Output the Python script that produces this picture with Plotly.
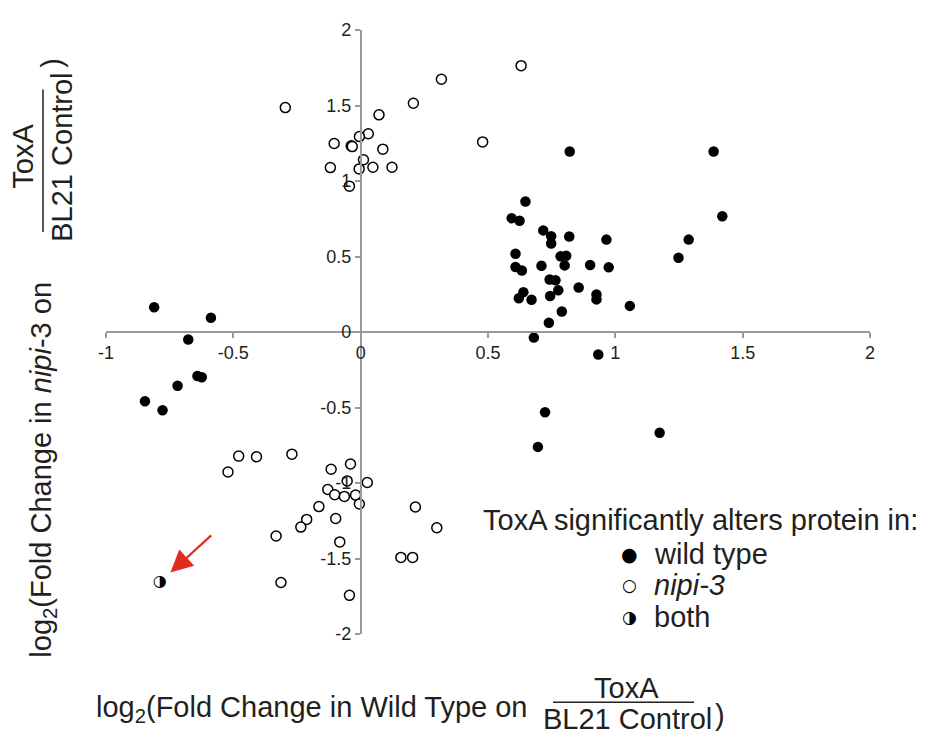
import plotly.graph_objects as go

# ---- data ----
wt_x = [0.821, 1.386, 0.647, 0.593, 0.624, 1.420, 0.717, 0.748, 0.748, 0.819, 0.965, 1.288,
        1.248, 0.608, 0.785, 0.807, 0.608, 0.633, 0.710, 0.801, 0.901, 0.974, 0.742, 0.765,
        0.776, 0.856, 0.639, 0.621, 0.671, 0.744, 0.926, 0.926, 1.057, 0.790, 0.739, 0.680,
        0.933, 1.174, 0.724, 0.696, -0.811, -0.588, -0.677, -0.641, -0.624, -0.719, -0.847, -0.778]
wt_y = [1.195, 1.195, 0.864, 0.754, 0.737, 0.767, 0.673, 0.634, 0.586, 0.632, 0.612, 0.612,
        0.492, 0.518, 0.501, 0.505, 0.431, 0.407, 0.439, 0.441, 0.444, 0.428, 0.348, 0.343,
        0.277, 0.295, 0.264, 0.223, 0.214, 0.238, 0.249, 0.216, 0.173, 0.136, 0.061, -0.037,
        -0.149, -0.667, -0.531, -0.761, 0.164, 0.094, -0.050, -0.291, -0.300, -0.356, -0.459, -0.518]

nipi_x = [-0.296, 0.630, 0.317, 0.207, 0.072, 0.030, -0.005, -0.104, -0.037, -0.033, 0.087, 0.479,
          0.011, -0.119, -0.006, 0.048, 0.123, -0.044,
          -0.521, -0.479, -0.409, -0.270, -0.116, -0.040, -0.053, 0.026, -0.129, -0.102, -0.064,
          -0.020, -0.005, -0.164, -0.212, -0.235, -0.098, -0.332, -0.082, 0.215, 0.299, 0.158,
          0.204, -0.313, -0.044]
nipi_y = [1.486, 1.764, 1.674, 1.515, 1.438, 1.313, 1.294, 1.248, 1.233, 1.228, 1.211, 1.259,
          1.141, 1.089, 1.080, 1.091, 1.091, 0.966,
          -0.927, -0.822, -0.826, -0.809, -0.909, -0.874, -0.986, -0.997, -1.043, -1.078, -1.089,
          -1.080, -1.139, -1.156, -1.241, -1.292, -1.235, -1.351, -1.390, -1.159, -1.296, -1.493,
          -1.493, -1.659, -1.744]

both_x = [-0.789]
both_y = [-1.657]

arrow_tail = (-0.581, -1.338)

x_ticks = [-1, -0.5, 0, 0.5, 1, 1.5, 2]
x_ticktext = ["-1", "-0.5", "0", "0.5", "1", "1.5", "2"]
y_ticks = [-2, -1.5, -1, -0.5, 0, 0.5, 1, 1.5, 2]
y_ticktext = ["-2", "-1.5", "-1", "-0.5", "0", "0.5", "1", "1.5", "2"]

legend_title = "ToxA significantly alters protein in:"
legend_labels = ["wild type", "<i>nipi-3</i>", "both"]
legend_glyphs = ["\u25CF", "\u25CB", "\u25D1"]

# ---- layout geometry (page has an 8px body margin) ----
OFF = 8
W, H = 925 - OFF, 735 - OFF
ML, MR, MT, MB = 106 - OFF, 55, 24 - OFF, 101
PW, PH = W - ML - MR, H - MT - MB


def px(x):
    # page pixel x -> paper fraction
    return (x - OFF - ML) / PW


def py(y):
    # page pixel y -> paper fraction
    return (H - MB - (y - OFF)) / PH


FONT = "Liberation Sans, Arial, Helvetica, sans-serif"
TXT = "#231f20"
AX = "#9a9a9a"
FS = 29

fig = go.Figure()
fig.add_trace(go.Scatter(x=wt_x, y=wt_y, mode="markers", name="wild type",
                         marker=dict(symbol="circle", size=10.5, color="black",
                                     line=dict(width=0)), showlegend=False))
fig.add_trace(go.Scatter(x=nipi_x, y=nipi_y, mode="markers", name="nipi-3",
                         marker=dict(symbol="circle", size=10, color="white",
                                     line=dict(width=1.5, color="black")), showlegend=False))
fig.add_trace(go.Scatter(x=both_x, y=both_y, mode="text", name="both",
                         text=["\u25D1"], textposition="middle center",
                         textfont=dict(family="DejaVu Sans", size=16, color="black"),
                         showlegend=False))

ann = []
# red arrow
ann.append(dict(x=both_x[0] + 0.042, y=both_y[0] + 0.064, ax=arrow_tail[0], ay=arrow_tail[1],
                xref="x", yref="y", axref="x", ayref="y", text="", showarrow=True,
                arrowhead=2, arrowsize=2.0, arrowwidth=2.2, arrowcolor="#e32b1c", standoff=0))

# x title
ann.append(dict(x=px(94), y=py(710), xref="paper", yref="paper", xanchor="left", yanchor="middle",
                text="log<sub>2</sub>(Fold Change in Wild Type on", showarrow=False,
                font=dict(family=FONT, size=FS, color=TXT)))
ann.append(dict(x=px(626), y=py(689), xref="paper", yref="paper", xanchor="center", yanchor="middle",
                text="ToxA", showarrow=False, font=dict(family=FONT, size=FS, color=TXT)))
ann.append(dict(x=px(627), y=py(720), xref="paper", yref="paper", xanchor="center", yanchor="middle",
                text="BL21 Control", showarrow=False, font=dict(family=FONT, size=FS, color=TXT)))
ann.append(dict(x=px(720), y=py(716), xref="paper", yref="paper", xanchor="center", yanchor="middle",
                text=")", showarrow=False, font=dict(family=FONT, size=FS, color=TXT)))

# y title
ann.append(dict(x=px(43), y=py(468), xref="paper", yref="paper", xanchor="center", yanchor="middle",
                text="log<sub>2</sub>(Fold Change in <i>nipi</i>-3 on", textangle=-90, showarrow=False,
                font=dict(family=FONT, size=FS, color=TXT)))
ann.append(dict(x=px(23), y=py(152), xref="paper", yref="paper", xanchor="center", yanchor="middle",
                text="ToxA", textangle=-90, showarrow=False, font=dict(family=FONT, size=FS, color=TXT)))
ann.append(dict(x=px(62), y=py(153), xref="paper", yref="paper", xanchor="center", yanchor="middle",
                text="BL21 Control", textangle=-90, showarrow=False, font=dict(family=FONT, size=FS, color=TXT)))
ann.append(dict(x=px(52), y=py(57), xref="paper", yref="paper", xanchor="center", yanchor="middle",
                text=")", textangle=-90, showarrow=False, font=dict(family=FONT, size=FS, color=TXT)))

# legend
ann.append(dict(x=px(481), y=py(519), xref="paper", yref="paper", xanchor="left", yanchor="middle",
                text=legend_title, showarrow=False, font=dict(family=FONT, size=FS, color=TXT)))
for i, (g, lab) in enumerate(zip(legend_glyphs, legend_labels)):
    yy = 553 + 32 * i
    ann.append(dict(x=px(629), y=py(yy), xref="paper", yref="paper", xanchor="center", yanchor="middle",
                    text=g, showarrow=False,
                    font=dict(family="DejaVu Sans", size=19 if i == 0 else 17, color="black")))
    ann.append(dict(x=px(652), y=py(yy), xref="paper", yref="paper", xanchor="left", yanchor="middle",
                    text=lab, showarrow=False, font=dict(family=FONT, size=FS, color=TXT)))

shapes = [
    dict(type="line", xref="paper", yref="paper", x0=px(553), x1=px(694), y0=py(703), y1=py(703),
         line=dict(color=TXT, width=1.5)),
    dict(type="line", xref="paper", yref="paper", x0=px(43), x1=px(43), y0=py(84), y1=py(228),
         line=dict(color=TXT, width=1.5)),
]

fig.update_layout(
    width=W, height=H,
    margin=dict(l=ML, r=MR, t=MT, b=MB),
    paper_bgcolor="white", plot_bgcolor="white",
    showlegend=False,
    annotations=ann, shapes=shapes,
    xaxis=dict(range=[-1, 2], anchor="free", position=0.5, showgrid=False, zeroline=False,
               showline=True, linecolor=AX, linewidth=1.5, ticks="outside", ticklen=5,
               tickcolor=AX, tickwidth=1.5, tickvals=x_ticks, ticktext=x_ticktext,
               tickfont=dict(family=FONT, size=18, color=TXT)),
    yaxis=dict(range=[-2, 2], anchor="free", position=1 / 3, showgrid=False, zeroline=False,
               showline=True, linecolor=AX, linewidth=1.5, ticks="outside", ticklen=5,
               tickcolor=AX, tickwidth=1.5, tickvals=y_ticks, ticktext=y_ticktext,
               tickfont=dict(family=FONT, size=18, color=TXT)),
)

fig.write_html("out.html")
